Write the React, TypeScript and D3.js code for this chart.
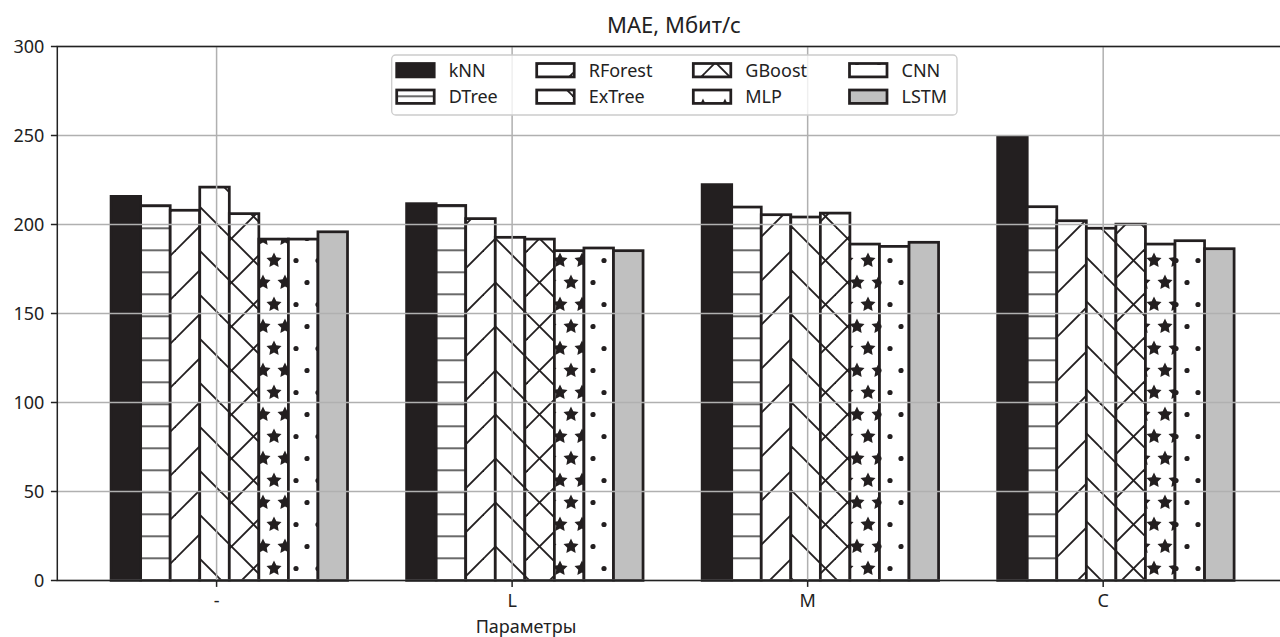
import * as d3 from "d3";
import React from "react";

const categories = ["-", "L", "M", "C"];
const models = ["kNN", "DTree", "RForest", "ExTree", "GBoost", "MLP", "CNN", "LSTM"];
const knnValues = [215.8, 211.7, 222.4, 249.5];
const dtreeValues = [210.6, 210.7, 209.8, 210.0];
const rforestValues = [208.0, 203.3, 205.5, 202.1];
const extreeValues = [221.0, 192.8, 204.2, 197.9];
const gboostValues = [206.1, 191.8, 206.4, 200.2];
const mlpValues = [191.8, 185.3, 189.0, 189.0];
const cnnValues = [191.8, 186.8, 187.7, 190.9];
const lstmValues = [195.9, 185.3, 190.0, 186.4];
const yTicks = [0, 50, 100, 150, 200, 250, 300];

const series = [knnValues, dtreeValues, rforestValues, extreeValues, gboostValues, mlpValues, cnnValues, lstmValues];
const fills = [
  "#231f20",
  "url(#hatchH)",
  "url(#hatchNE)",
  "url(#hatchSE)",
  "url(#hatchX)",
  "url(#stars)",
  "url(#dots)",
  "#c0c0c0",
];

const W = 1280;
const H = 637;
const ink = "#231f20";
const font = "'Noto Sans', 'Open Sans', sans-serif";

// star path, 5 points, pointing up
function starPath(cx: number, cy: number, r: number) {
  const pts: string[] = [];
  for (let i = 0; i < 10; i++) {
    const a = Math.PI / 2 + (i * Math.PI) / 5;
    const rr = i % 2 === 0 ? r : r * 0.5;
    pts.push(`${(cx + rr * Math.cos(a)).toFixed(2)},${(cy - rr * Math.sin(a)).toFixed(2)}`);
  }
  return "M" + pts.join("L") + "Z";
}

function gridShapes(kind: "star" | "dot") {
  // even rows y=40.5 x=10, odd rows y=18.5 x=21 (tile 22 x 44)
  const centers: [number, number][] = [];
  for (const dx of [-22, 0, 22]) {
    for (const dy of [-44, 0, 44]) {
      centers.push([10 + dx, 40.5 + dy]);
      centers.push([21 + dx, 18.5 + dy]);
    }
  }
  return centers.map(([cx, cy], i) =>
    kind === "star" ? (
      <path key={i} d={starPath(cx, cy, 7.9)} fill={ink} />
    ) : (
      <circle key={i} cx={cx} cy={cy} r={2.6} fill={ink} />
    )
  );
}

function diagLines(dir: "ne" | "se") {
  const out: JSX.Element[] = [];
  const offs = dir === "ne" ? [-14, 30, 74, 118] : [-51, -7, 37, 81];
  offs.forEach((c, i) => {
    if (dir === "ne") {
      out.push(<line key={dir + i} x1={-10} y1={c + 10} x2={60} y2={c - 60} stroke={ink} strokeWidth={1.9} />);
    } else {
      out.push(<line key={dir + i} x1={-10} y1={-10 - c} x2={60} y2={60 - c} stroke={ink} strokeWidth={1.9} />);
    }
  });
  return out;
}

function App() {
  const x = d3
    .scaleLinear()
    .domain([-0.539, 3.63])
    .range([57.3, 216.7 + 295.5 * 3.63]);
  const y = d3.scaleLinear().domain([0, 300]).range([580.5, 46.5]);
  const barW = 0.1;
  const x0 = x.range()[0];
  const x1 = x.range()[1];
  const y0 = y(0);
  const yTop = y(300);

  const legendCols = [396.7, 536.7, 693.3, 849.5];
  const legendRows = [63.5, 90];

  return (
    <svg width={W} height={H} style={{ position: "absolute", left: 0, top: 0, background: "#fff" }}>
      <defs>
        <pattern id="hatchH" patternUnits="userSpaceOnUse" x={0} y={0} width={22} height={22}>
          <rect width={22} height={22} fill="#fff" />
          <line x1={-1} y1={8.3} x2={23} y2={8.3} stroke="#6a6a6a" strokeWidth={2} />
        </pattern>
        <pattern id="hatchNE" patternUnits="userSpaceOnUse" x={0} y={0} width={44} height={44}>
          <rect width={44} height={44} fill="#fff" />
          {diagLines("ne")}
        </pattern>
        <pattern id="hatchSE" patternUnits="userSpaceOnUse" x={0} y={0} width={44} height={44}>
          <rect width={44} height={44} fill="#fff" />
          {diagLines("se")}
        </pattern>
        <pattern id="hatchX" patternUnits="userSpaceOnUse" x={0} y={0} width={44} height={44}>
          <rect width={44} height={44} fill="#fff" />
          {diagLines("ne")}
          {diagLines("se")}
        </pattern>
        <pattern id="stars" patternUnits="userSpaceOnUse" x={0} y={0} width={22} height={44}>
          <rect width={22} height={44} fill="#fff" />
          {gridShapes("star")}
        </pattern>
        <pattern id="dots" patternUnits="userSpaceOnUse" x={0} y={0} width={22} height={44}>
          <rect width={22} height={44} fill="#fff" />
          {gridShapes("dot")}
        </pattern>
      </defs>

      {/* bars */}
      {series.map((vals, mi) =>
        vals.map((v, gi) => {
          const left = x(gi - 0.357 + mi * barW);
          const right = x(gi - 0.357 + (mi + 1) * barW);
          return (
            <rect
              key={`${mi}-${gi}`}
              x={left}
              y={y(v)}
              width={right - left}
              height={y0 - y(v)}
              fill={fills[mi]}
              stroke={ink}
              strokeWidth={2.75}
            />
          );
        })
      )}

      {/* grid */}
      {yTicks.map((t) => (
        <line key={"gy" + t} x1={x0} x2={x1} y1={y(t)} y2={y(t)} stroke="#b0b0b0" strokeWidth={1.5} />
      ))}
      {categories.map((c, i) => (
        <line key={"gx" + c} x1={x(i)} x2={x(i)} y1={yTop} y2={y0} stroke="#b0b0b0" strokeWidth={1.5} />
      ))}

      {/* frame */}
      <rect x={x0} y={yTop} width={x1 - x0} height={y0 - yTop} fill="none" stroke="#222" strokeWidth={1.5} />

      {/* y axis */}
      {yTicks.map((t) => (
        <g key={"ty" + t}>
          <line x1={x0 - 6.4} x2={x0} y1={y(t)} y2={y(t)} stroke="#222" strokeWidth={1.5} />
          <text x={x0 - 13} y={y(t)} dy="0.35em" textAnchor="end" fontFamily={font} fontSize={18} fill="#222">
            {t}
          </text>
        </g>
      ))}

      {/* x axis */}
      {categories.map((c, i) => (
        <g key={"tx" + c}>
          <line x1={x(i)} x2={x(i)} y1={y0} y2={y0 + 6.4} stroke="#222" strokeWidth={1.5} />
          <text x={x(i)} y={607} textAnchor="middle" fontFamily={font} fontSize={18} fill="#222">
            {c}
          </text>
        </g>
      ))}

      <text x={526} y={633} textAnchor="middle" fontFamily={font} fontSize={18} fill="#222">
        Параметры
      </text>
      <text x={674} y={33} textAnchor="middle" fontFamily={font} fontSize={22} fill="#222">
        MAE, Мбит/с
      </text>

      {/* legend */}
      <rect x={391.7} y={55} width={957 - 391.7} height={60} rx={4} fill="#fff" fillOpacity={0.8} stroke="#cccccc" strokeWidth={1.3} />
      {models.map((m, i) => {
        const col = Math.floor(i / 2);
        const row = i % 2;
        const px = legendCols[col];
        const py = legendRows[row];
        return (
          <g key={"lg" + m}>
            <rect x={px} y={py} width={37.5} height={13.4} fill={fills[i]} stroke={ink} strokeWidth={2.75} />
            <text x={px + 52} y={py + 6.7} dy="0.35em" fontFamily={font} fontSize={18} fill="#222">
              {m}
            </text>
          </g>
        );
      })}
    </svg>
  );
}

export default App;
